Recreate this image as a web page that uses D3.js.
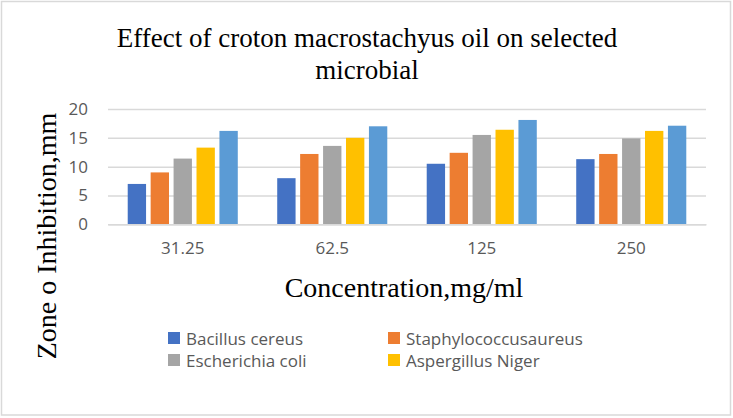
<!DOCTYPE html>
<html><head><meta charset="utf-8">
<script src="https://cdn.jsdelivr.net/npm/d3@7"></script>
<style>
html,body{margin:0;padding:0;background:#fff;}
svg{display:block;}
</style></head>
<body>
<svg id="chart" width="733" height="418"></svg>
<script>
const categories = ["31.25", "62.5", "125", "250"];
const seriesNames = ["Bacillus cereus", "Staphylococcusaureus", "Escherichia coli", "Aspergillus Niger", "Series5"];
const bacillus = [7.0, 8.0, 10.5, 11.3];
const staph = [9.0, 12.2, 12.4, 12.2];
const ecoli = [11.4, 13.6, 15.5, 14.9];
const asper = [13.3, 15.0, 16.4, 16.2];
const series5 = [16.2, 17.0, 18.1, 17.1];
const seriesValues = [bacillus, staph, ecoli, asper, series5];
const colors = ["#4472C4", "#ED7D31", "#A5A5A5", "#FFC000", "#5B9BD5"];
const yTicks = [0, 5, 10, 15, 20];
const legendCount = 4;

const svg = d3.select("#chart");
const W = 733, H = 418;
const sans = "'Open Sans', 'Noto Sans', sans-serif";
const serif = "'Liberation Serif', 'Times New Roman', serif";

svg.append("rect").attr("x", 1.5).attr("y", 1.5).attr("width", W - 4).attr("height", H - 4.5)
  .attr("fill", "#fff").attr("stroke", "#d9d9d9").attr("stroke-width", 1.5);

const plot = {left: 108, right: 706, top: 109, bottom: 224.3};
const x = d3.scaleBand().domain(categories).range([plot.left, plot.right]).paddingInner(0).paddingOuter(0);
const y = d3.scaleLinear().domain([0, 20]).range([plot.bottom, plot.top]);
const x1 = d3.scaleBand().domain(d3.range(seriesValues.length))
  .range([0, x.bandwidth()]).paddingOuter(0.86).paddingInner(0.2);

// gridlines
const yAxis = d3.axisLeft(y).tickValues(yTicks).tickSize(-(plot.right - plot.left)).tickPadding(20);
const gy = svg.append("g").attr("transform", `translate(${plot.left},0)`).call(yAxis);
gy.select(".domain").remove();
gy.selectAll(".tick line").attr("stroke", "#d9d9d9").attr("stroke-width", 1.5);
gy.selectAll(".tick text").attr("fill", "#595959").style("font-family", sans).style("font-size", "17px");

// bars
seriesValues.forEach((vals, si) => {
  svg.append("g").selectAll("rect").data(vals).join("rect")
    .attr("x", (d, i) => x(categories[i]) + x1(si))
    .attr("width", x1.bandwidth())
    .attr("y", d => y(d))
    .attr("height", d => y(0) - y(d))
    .attr("fill", colors[si]);
});

// x axis labels
const xAxis = d3.axisBottom(x).tickSize(0).tickPadding(18);
const gx = svg.append("g").attr("transform", `translate(0,${plot.bottom})`).call(xAxis);
gx.select(".domain").attr("stroke", "#d9d9d9").attr("stroke-width", 1.5);
gx.selectAll(".tick text").attr("fill", "#595959").style("font-family", sans).style("font-size", "17px");

// title
const title = svg.append("text").attr("x", 367).attr("y", 47).attr("text-anchor", "middle")
  .style("font-family", serif).style("font-size", "27px").attr("fill", "#000");
title.append("tspan").attr("x", 367).attr("dy", 0).text("Effect of croton macrostachyus oil on selected");
title.append("tspan").attr("x", 367).attr("dy", 32).text("microbial");

// axis titles
svg.append("text").attr("x", 404).attr("y", 297).attr("text-anchor", "middle")
  .style("font-family", serif).style("font-size", "28px").attr("fill", "#000")
  .text("Concentration,mg/ml");
svg.append("text").attr("transform", "translate(56,236) rotate(-90)").attr("text-anchor", "middle")
  .style("font-family", serif).style("font-size", "28px").attr("fill", "#000")
  .text("Zone o Inhibition,mm");

// legend
const legendCols = [168, 388];
const legendRows = [338, 360];
const lg = svg.append("g");
seriesNames.slice(0, legendCount).forEach((name, i) => {
  const lx = legendCols[i % 2], ly = legendRows[Math.floor(i / 2)];
  lg.append("rect").attr("x", lx).attr("y", ly - 6).attr("width", 12).attr("height", 12).attr("fill", colors[i]);
  lg.append("text").attr("x", lx + 18).attr("y", ly).attr("dominant-baseline", "central")
    .style("font-family", sans).style("font-size", "17px").attr("fill", "#595959").text(name);
});
</script>
</body></html>
